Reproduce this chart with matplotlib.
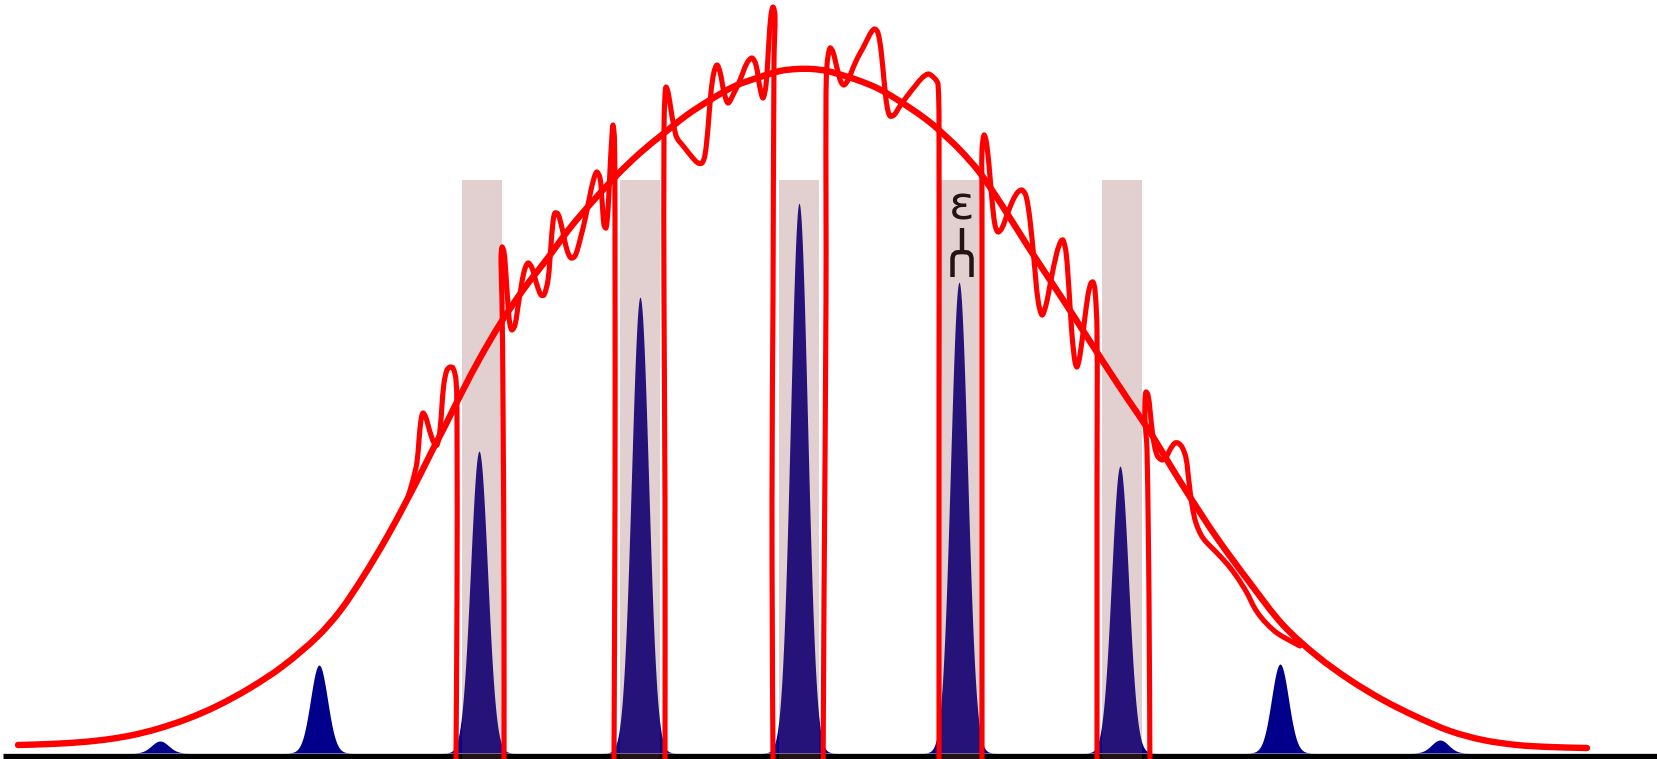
import numpy as np
import matplotlib
matplotlib.use("Agg")
import matplotlib.pyplot as plt
from matplotlib.path import Path
from matplotlib.patches import PathPatch

# -------------------------------------------------------------------------------
# Data (x along the axis, picture row y; heights are taken from the base line)
# -------------------------------------------------------------------------------

# narrow navy peaks: centre, height, width
peak_x = [160, 319, 479, 640, 799, 959, 1120, 1280, 1440]
peak_h = [12, 88, 302, 456, 550, 471, 287, 89, 13]
peak_sigma = 8.5

# shaded bands (left, right) and their top
band_lo = [462, 620, 779, 940, 1102]
band_hi = [502, 660, 819, 980, 1142]
band_top = 573

# smooth red envelope
env_x = [18, 50, 83, 110, 133, 157, 187, 217, 250, 283, 317, 340, 363, 387,
         407, 420, 432, 445, 462, 480, 500, 523, 547, 570, 593, 617, 640, 663,
         687, 710, 735, 760, 780, 797, 812, 827, 845, 860, 877, 893, 910, 927,
         940, 960, 980, 1003, 1027, 1050, 1073, 1100, 1127, 1150, 1170, 1190,
         1217, 1250, 1283, 1317, 1350, 1383, 1417, 1450, 1483, 1517, 1550, 1587]
env_y = [745, 744, 742, 739, 735, 729, 719, 706, 688, 666, 637, 611, 577, 537,
         500, 475, 451, 426, 392, 358, 324, 290, 259, 228, 201, 175, 153, 134,
         115, 100, 86, 77, 71, 69, 69, 71, 76, 81, 88, 97, 108, 120,
         131, 150, 173, 207, 245, 280, 315, 357, 398, 432, 465, 497,
         538, 583, 625, 656, 680, 700, 717, 731, 740, 745, 747, 748]

# wiggly red curve, one piece for each gap between the bands
wig_pieces = [
    [(407, 500), (413, 480), (417, 462), (419, 440), (421, 420), (423, 413),
     (426, 418), (430, 432), (434, 443), (437, 445), (440, 430), (442, 405),
     (444, 383), (447, 370), (450, 367), (453, 368), (456, 380), (457, 420),
     (457, 600), (456, 759), (456, 790)],
    [(504, 790), (504, 600), (503, 400), (502, 300), (501, 260), (502, 247),
     (504, 252), (506, 275), (508, 305), (510, 325), (512, 330), (515, 325),
     (519, 300), (524, 272), (528, 263), (532, 268), (537, 285), (541, 295),
     (544, 295), (548, 280), (551, 245), (553, 222), (555, 213), (558, 214),
     (562, 228), (567, 250), (571, 258), (575, 256), (580, 240), (586, 215),
     (591, 190), (595, 175), (597, 172), (600, 178), (602, 200), (604, 225),
     (606, 228), (608, 210), (610, 170), (612, 135), (613, 125), (614.5, 140),
     (615, 250), (615, 500), (614, 759), (614, 790)],
    [(665, 790), (665, 500), (664, 300), (664, 130), (665, 95), (666, 87),
     (668, 92), (671, 110), (674, 127), (677, 138), (684, 147), (692, 157),
     (698, 163), (702, 163), (705, 155), (708, 128), (711, 92), (714, 72),
     (717, 65), (720, 72), (724, 92), (728, 103), (733, 95), (740, 80),
     (747, 63), (752, 58), (756, 65), (760, 88), (763, 98), (766, 85),
     (769, 40), (771, 15), (773, 7), (775, 15), (774, 60), (773, 300),
     (772, 500), (773, 759), (774, 790)],
    [(823, 790), (824, 600), (826, 300), (826, 100), (827, 65), (830, 48),
     (833, 52), (837, 68), (841, 82), (844, 85), (848, 80), (853, 68),
     (858, 57), (863, 48), (868, 38), (872, 31), (875, 29), (878, 33),
     (881, 50), (884, 80), (887, 106), (890, 116), (894, 115), (900, 106),
     (908, 95), (916, 85), (922, 78), (928, 74), (932, 76), (936, 80),
     (938, 84), (939, 120), (939, 400), (939, 759), (939, 790)],
    [(982, 790), (982, 500), (982, 200), (982, 150), (984, 135), (986, 140),
     (989, 165), (992, 200), (995, 225), (998, 232), (1002, 228), (1007, 215),
     (1013, 200), (1018, 192), (1022, 190), (1026, 196), (1030, 220),
     (1034, 260), (1038, 300), (1042, 315), (1046, 305), (1051, 280),
     (1057, 252), (1061, 241), (1063, 240), (1066, 252), (1069, 290),
     (1072, 335), (1075, 362), (1077, 367), (1080, 355), (1084, 325),
     (1088, 295), (1091, 283), (1093, 282), (1095, 290), (1097, 330),
     (1097, 500), (1097, 759), (1097, 790)],
    [(1150, 790), (1149, 600), (1147, 450), (1145, 420), (1145, 400),
     (1146, 392), (1148, 395), (1150, 410), (1153, 437), (1157, 455),
     (1162, 460), (1166, 457), (1171, 448), (1175, 443), (1178, 443),
     (1182, 447), (1186, 458), (1189, 482), (1192, 505), (1196, 523),
     (1203, 538), (1217, 553), (1228, 565), (1237, 577), (1247, 593),
     (1254, 607), (1260, 616), (1268, 625), (1277, 633), (1287, 639),
     (1300, 646)],
]

BASE = 753  # picture row of the base line


def smooth_path(x, y):
    # cubic Bezier path through the given points (chord-length tangents)
    p = np.column_stack([x, y]).astype(float)
    n = len(p)
    d = np.hypot(*np.diff(p, axis=0).T)
    tan = np.zeros_like(p)
    tan[0] = (p[1] - p[0]) / d[0]
    tan[-1] = (p[-1] - p[-2]) / d[-1]
    for i in range(1, n - 1):
        tan[i] = (p[i + 1] - p[i - 1]) / (d[i - 1] + d[i])
    verts = [p[0]]
    codes = [Path.MOVETO]
    for i in range(n - 1):
        verts += [p[i] + tan[i] * d[i] / 3, p[i + 1] - tan[i + 1] * d[i] / 3, p[i + 1]]
        codes += [Path.CURVE4] * 3
    return Path(verts, codes)


# -------------------------------------------------------------------------------
# Plot
# -------------------------------------------------------------------------------

fig = plt.figure(figsize=(16.57, 7.59), dpi=100)
ax = fig.add_axes([0, 0, 1, 1])
ax.set_xlim(0, 1657)
ax.set_ylim(-6, BASE)
ax.axis('off')

# base line
ax.plot([3, 1657], [-2.5, -2.5], color='black', lw=3.8, solid_capstyle='butt', zorder=1)

# peaks
xs = np.linspace(0, 1657, 3000)
for c, h in zip(peak_x, peak_h):
    m = np.abs(xs - c) < 5 * peak_sigma
    ax.fill_between(xs[m], 0, h * np.exp(-0.5 * ((xs[m] - c) / peak_sigma) ** 2),
                    color='darkblue', lw=0, zorder=2)

# epsilon mark in the fourth band
ax.text(961.5, BASE - 207, 'ε', fontsize=34, ha='center', va='center',
        color='black', zorder=3)
ax.plot([962, 962], [BASE - 228, BASE - 252], color='black', lw=3.2,
        solid_capstyle='butt', zorder=3)
arch = [(952.5, 277), (952.5, 258), (953.5, 254.5), (956, 252.5), (962, 252),
        (968, 252.5), (970.5, 254.5), (971.5, 258), (971.5, 277)]
ax.plot([a[0] for a in arch], [BASE - a[1] for a in arch], color='black',
        lw=3.2, solid_capstyle='butt', solid_joinstyle='round', zorder=3)

# bands
for lo, hi in zip(band_lo, band_hi):
    ax.fill_between([lo, hi], -10, band_top, color='#904c4c', alpha=0.26,
                    lw=0, zorder=4)

# red curves
ax.add_patch(PathPatch(smooth_path(env_x, BASE - np.array(env_y)), fill=False,
                       edgecolor='red', lw=4.6, capstyle='round',
                       joinstyle='round', zorder=5))
for piece in wig_pieces:
    px = [q[0] for q in piece]
    py = [BASE - q[1] for q in piece]
    ax.add_patch(PathPatch(smooth_path(px, py), fill=False, edgecolor='red',
                           lw=3.7, capstyle='round', joinstyle='round', zorder=5))

fig.savefig('out.png', dpi=100)
